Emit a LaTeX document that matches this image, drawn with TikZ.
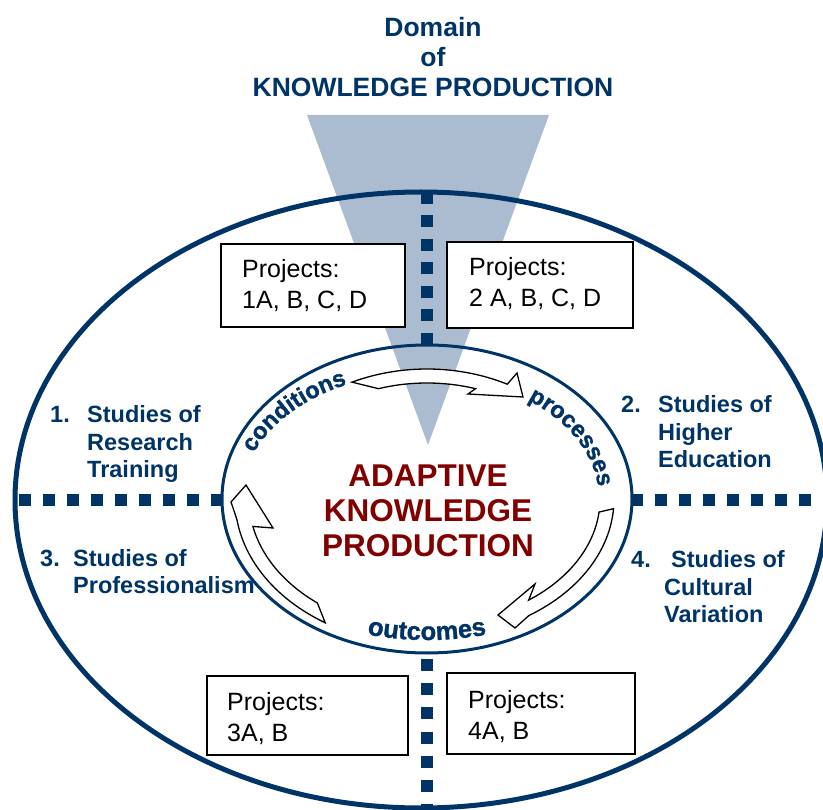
\documentclass[tikz,border=0pt]{standalone}
\usepackage{fontspec}
\setmainfont{Liberation Sans}
\usetikzlibrary{decorations.text}
\definecolor{navy}{RGB}{0,51,102}
\definecolor{dred}{RGB}{128,0,0}
\definecolor{trifill}{RGB}{172,188,208}
\newcommand{\stkl}[1]{\begin{tabular}[t]{@{}l@{}}#1\end{tabular}}
\newcommand{\stkc}[1]{\begin{tabular}[t]{@{}c@{}}#1\end{tabular}}
\newcommand{\wafont}[1]{\bfseries\addfontfeatures{FakeBold=1.2}\fontsize{#1}{#1}\selectfont}
\begin{document}
\begin{tikzpicture}[x=1pt,y=-1pt,
  lbl/.style={text=navy,font=\bfseries\fontsize{23.5}{27.5}\selectfont,anchor=base west,inner sep=0pt},
  projbox/.style={draw=black,line width=1.5pt,fill=white,inner sep=0pt,rectangle},
  projtxt/.style={font=\fontsize{25}{31}\selectfont,anchor=base west,inner sep=0pt},
  dotline/.style={draw=navy,line width=11.5pt},
  blockarrow/.style={draw=black,fill=white,line width=1.3pt,line join=miter},
  curvetxt/.style={decorate,decoration={text along path,text align=center,text color=navy}},
]
\useasboundingbox (0,0) rectangle (823,810);
% funnel
\fill[trifill] (307,115) -- (549,115) -- (428,445) -- cycle;
% centres
\coordinate (oc) at (421,500);
\coordinate (ic) at (427,499);
% dotted axes
\coordinate (vt1) at (427,192); \coordinate (vt2) at (427,345);
\coordinate (vb1) at (427,653); \coordinate (vb2) at (427,812);
\coordinate (hl1) at (15,500);  \coordinate (hl2) at (222,500);
\coordinate (hr1) at (631,500); \coordinate (hr2) at (812,500);
\draw[dotline,dash pattern=on 12pt off 11.5pt] (vt1) -- (vt2);
\draw[dotline,dash pattern=on 12pt off 12.2pt,dash phase=18.2pt] (vb1) -- (vb2);
\draw[dotline,dash pattern=on 12pt off 12pt,dash phase=20pt] (hl1) -- (hl2);
\draw[dotline,dash pattern=on 12pt off 12pt] (hr1) -- (hr2);
% ellipses
\draw[navy,line width=5pt] (oc) ellipse [x radius=406, y radius=308];
\draw[navy,line width=3pt] (ic) ellipse [x radius=205, y radius=154];
% project boxes
\node[projbox,minimum width=184pt,minimum height=83pt] (b1) at (313,285.5) {};
\node[projbox,minimum width=186pt,minimum height=86pt] (b2) at (540,285) {};
\node[projbox,minimum width=201pt,minimum height=79pt] (b3) at (307.5,715.5) {};
\node[projbox,minimum width=188pt,minimum height=81pt] (b4) at (541,713.5) {};
\node[projtxt] (t1) at (242,278) {\stkl{Projects:\\1A, B, C, D}};
\node[projtxt] (t2) at (469,276) {\stkl{Projects:\\2 A, B, C, D}};
\node[projtxt] (t3) at (227,710) {\stkl{Projects:\\3A, B}};
\node[projtxt] (t4) at (468,708) {\stkl{Projects:\\4A, B}};
% quadrant labels
\node[lbl] (n1) at (50,423) {1.};
\node[lbl] (l1) at (87,423) {\stkl{Studies of\\Research\\Training}};
\node[lbl] (n2) at (621,413) {2.};
\node[lbl] (l2) at (658,413) {\stkl{Studies of\\Higher\\Education}};
\node[lbl] (n3) at (40,566) {3.};
\node[lbl] (l3) at (73,566) {\stkl{Studies of\\Professionalism}};
\node[lbl] (n4) at (631,567) {4.};
\node[lbl] (l4a) at (671,567) {Studies of};
\node[lbl] (l4b) at (664,595) {\stkl{Cultural\\Variation}};
% title
\node[anchor=base,inner sep=0pt,text=navy,font=\bfseries\fontsize{26.5}{30}\selectfont] (ttl) at (433,37) {\stkc{Domain\\of\\KNOWLEDGE PRODUCTION}};
% centre
\node[anchor=base,inner sep=0pt,text=dred,font=\bfseries\fontsize{31.5}{35}\selectfont] (akp) at (428,487) {\stkc{ADAPTIVE\\KNOWLEDGE\\PRODUCTION}};
% curved words
\path[curvetxt,decoration={text={|\wafont{23.5}|conditions}}]
  plot[domain=-166:-110,samples=40] ({427+186*cos(\x)},{499+127*sin(\x)});
\path[curvetxt,decoration={text={|\wafont{23.5}|processes}}]
  plot[domain=-60:2,samples=40] ({427+172*cos(\x)},{499+122*sin(\x)});
\path[curvetxt,decoration={text={|\wafont{25.5}|outcomes}}]
  plot[domain=68:112,samples=40] ({427-215*cos(\x)},{499+141*sin(\x)});
% cycle arrows
\draw[blockarrow] plot[domain=-116:-62,samples=30] ({427+171*cos(\x)},{499+130*sin(\x)})
  -- (517,373) -- (523,397) -- (468,394)
  -- plot[domain=0:36,samples=30] ({427+157*cos(-72-\x)},{499+116*sin(-72-\x)}) -- cycle;
\draw[blockarrow] plot[domain=122:172,samples=30] ({427+192*cos(\x)},{499+146*sin(\x)})
  -- (231,502) -- (246,485) -- (273,528)
  -- plot[domain=0:40,samples=30] ({427+178*cos(168-\x)},{499+132*sin(168-\x)}) -- cycle;
\draw[blockarrow] plot[domain=4:57,samples=30] ({427+187*cos(\x)},{499+139*sin(\x)})
  -- (515,628) -- (498,615) -- (535,584)
  -- plot[domain=0:48,samples=30] ({427+173*cos(54-\x)},{499+125*sin(54-\x)}) -- cycle;
\end{tikzpicture}
\end{document}
